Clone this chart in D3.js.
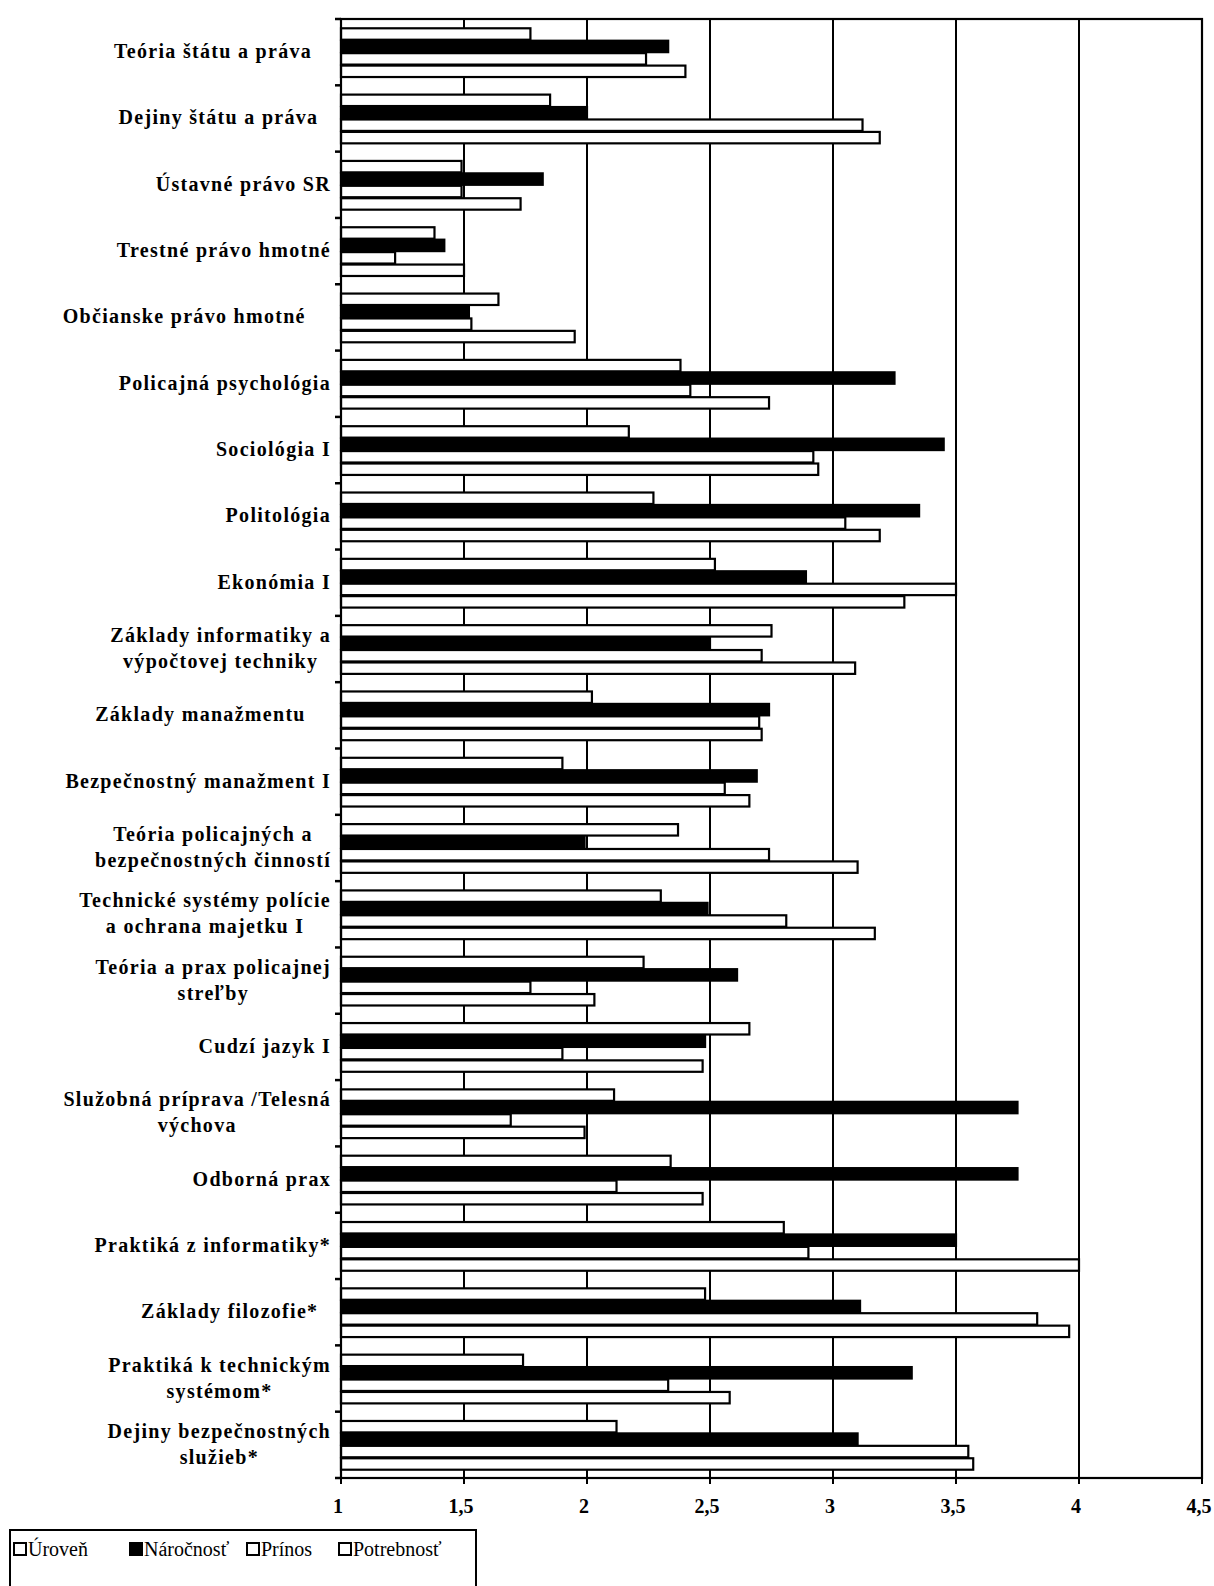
<!DOCTYPE html>
<html>
<head>
<meta charset="utf-8">
<script src="https://cdn.jsdelivr.net/npm/d3@7"></script>
<style>
  html, body { margin: 0; padding: 0; background: #fff; }
  svg { display: block; }
  .cat { font-family: "Liberation Serif", "Times New Roman", serif; font-weight: bold; font-size: 20px; letter-spacing: 1.3px; white-space: pre; }
  .tick { font-family: "Liberation Serif", "Times New Roman", serif; font-weight: bold; font-size: 20px; }
  .leg { font-family: "Liberation Serif", "Times New Roman", serif; font-size: 20px; }
</style>
</head>
<body>
<svg id="chart" width="1214" height="1586"></svg>
<script>
const categories = [
  "Teória štátu a práva   ",
  "Dejiny štátu a práva  ",
  "Ústavné právo SR",
  "Trestné právo hmotné",
  "Občianske právo hmotné    ",
  "Policajná psychológia",
  "Sociológia I",
  "Politológia",
  "Ekonómia I",
  "Základy informatiky a\nvýpočtovej techniky",
  "Základy manažmentu    ",
  "Bezpečnostný manažment I",
  "Teória policajných a\nbezpečnostných činností",
  "Technické systémy polície\na ochrana majetku I",
  "Teória a prax policajnej\nstreľby",
  "Cudzí jazyk I",
  "Služobná príprava /Telesná\nvýchova",
  "Odborná prax",
  "Praktiká z informatiky*",
  "Základy filozofie*  ",
  "Praktiká k technickým\nsystémom*",
  "Dejiny bezpečnostných\nslužieb*"
];
const seriesNames = ["Úroveň", "Náročnosť", "Prínos", "Potrebnosť"];
const uroven     = [1.77, 1.85, 1.49, 1.38, 1.64, 2.38, 2.17, 2.27, 2.52, 2.75, 2.02, 1.90, 2.37, 2.30, 2.23, 2.66, 2.11, 2.34, 2.80, 2.48, 1.74, 2.12];
const narocnost  = [2.33, 2.00, 1.82, 1.42, 1.52, 3.25, 3.45, 3.35, 2.89, 2.50, 2.74, 2.69, 1.99, 2.49, 2.61, 2.48, 3.75, 3.75, 3.50, 3.11, 3.32, 3.10];
const prinos     = [2.24, 3.12, 1.49, 1.22, 1.53, 2.42, 2.92, 3.05, 3.50, 2.71, 2.70, 2.56, 2.74, 2.81, 1.77, 1.90, 1.69, 2.12, 2.90, 3.83, 2.33, 3.55];
const potrebnost = [2.40, 3.19, 1.73, 1.50, 1.95, 2.74, 2.94, 3.19, 3.29, 3.09, 2.71, 2.66, 3.10, 3.17, 2.03, 2.47, 1.99, 2.47, 4.00, 3.96, 2.58, 3.57];
const xTickValues = [1, 1.5, 2, 2.5, 3, 3.5, 4, 4.5];
const xTickLabels = ["1", "1,5", "2", "2,5", "3", "3,5", "4", "4,5"];

const seriesValues = [uroven, narocnost, prinos, potrebnost];
const seriesFill = ["#ffffff", "#000000", "#ffffff", "#ffffff"];

const svg = d3.select("#chart");
const L = 341, R = 1202, T = 19, B = 1478;

const x = d3.scaleLinear().domain([1, 4.5]).range([L, R]);
const y = d3.scaleBand().domain(d3.range(categories.length)).range([T, B]).paddingInner(0.25).paddingOuter(0.125);
const ySub = d3.scaleBand().domain(d3.range(seriesNames.length)).range([0, y.bandwidth()]);
const step = y.step();

// gridlines
svg.append("g").selectAll("line").data(xTickValues.filter(v => v > 1 && v < 4.5)).join("line")
  .attr("x1", d => x(d)).attr("x2", d => x(d)).attr("y1", T).attr("y2", B)
  .attr("stroke", "#000").attr("stroke-width", 2);

// bars
const rows = svg.append("g");
categories.forEach((c, i) => {
  const g = rows.append("g").attr("transform", `translate(0,${y(i)})`);
  g.selectAll("rect").data(seriesValues.map((s, k) => ({ k, v: s[i] }))).join("rect")
    .attr("x", x(1)).attr("y", d => ySub(d.k) + 1)
    .attr("width", d => x(d.v) - x(1))
    .attr("height", ySub.bandwidth() - 1)
    .attr("fill", d => seriesFill[d.k])
    .attr("stroke", "#000").attr("stroke-width", 2.2);
});

// frame
svg.append("rect").attr("x", L).attr("y", T).attr("width", R - L).attr("height", B - T)
  .attr("fill", "none").attr("stroke", "#000").attr("stroke-width", 2.2);

// left category ticks
svg.append("g").selectAll("line").data(d3.range(categories.length + 1)).join("line")
  .attr("x1", L - 6).attr("x2", L).attr("y1", d => T + d * step).attr("y2", d => T + d * step)
  .attr("stroke", "#000").attr("stroke-width", 2.5);

// bottom axis ticks + labels
svg.append("g").selectAll("line").data(xTickValues).join("line")
  .attr("x1", d => x(d)).attr("x2", d => x(d)).attr("y1", B).attr("y2", B + 6)
  .attr("stroke", "#000").attr("stroke-width", 2);
svg.append("g").selectAll("text").data(xTickValues).join("text")
  .attr("class", "tick").attr("x", d => x(d) - 3).attr("y", B + 35)
  .attr("text-anchor", "middle").text((d, i) => xTickLabels[i]);

// category labels
const rightEdge = 331, lineH = 26;
categories.forEach((c, i) => {
  const lines = c.split("\n");
  const t = svg.append("text").attr("class", "cat").attr("text-anchor", "middle");
  const cy = y(i) + y.bandwidth() / 2;
  const y0 = cy - (lines.length - 1) * lineH / 2 + 6;
  lines.forEach((ln, j) => t.append("tspan").attr("y", y0 + j * lineH).text(ln));
  let maxW = 0;
  t.selectAll("tspan").each(function () { maxW = Math.max(maxW, this.getComputedTextLength()); });
  t.selectAll("tspan").attr("x", rightEdge - maxW / 2);
});

// legend
const lg = svg.append("g");
lg.append("rect").attr("x", 10).attr("y", 1530).attr("width", 466).attr("height", 70)
  .attr("fill", "#fff").attr("stroke", "#000").attr("stroke-width", 2);
const legX = [14, 130, 247, 339];
seriesNames.forEach((n, k) => {
  lg.append("rect").attr("x", legX[k]).attr("y", 1543).attr("width", 12).attr("height", 12)
    .attr("fill", seriesFill[k]).attr("stroke", "#000").attr("stroke-width", 2);
  lg.append("text").attr("class", "leg").attr("x", legX[k] + 14).attr("y", 1556).text(n);
});
</script>
</body>
</html>
